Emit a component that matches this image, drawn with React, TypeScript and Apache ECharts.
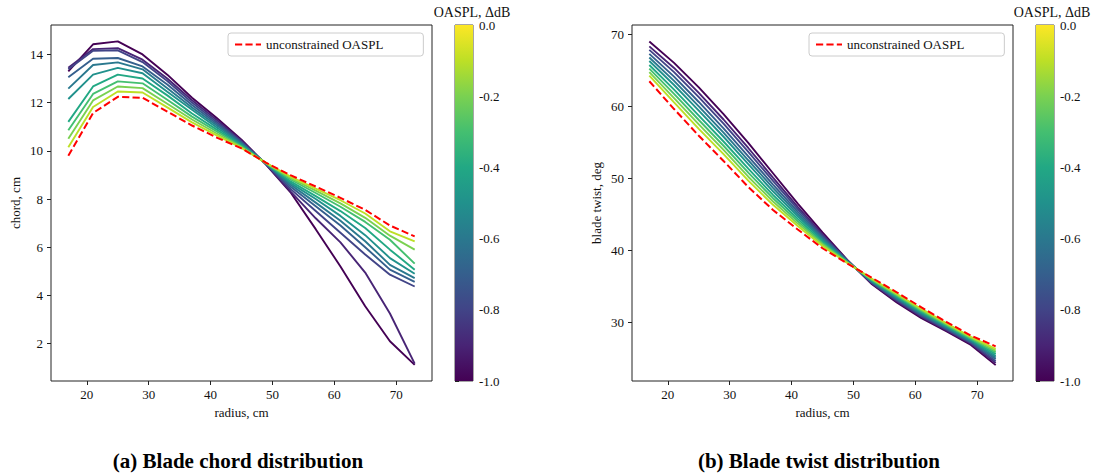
import React, { useEffect, useRef } from "react";
import * as echarts from "echarts";

// ---------- data ----------
const radius = [17, 21, 25, 29, 33, 37, 41, 45, 49, 53, 57, 61, 65, 69, 73];
const levels = [-1.0, -0.9, -0.8, -0.7, -0.6, -0.5, -0.4, -0.3, -0.2, -0.1];
const colorbarTicks = [0, -0.2, -0.4, -0.6, -0.8, -1.0];
const xTicks = [20, 30, 40, 50, 60, 70];
const chordTicks = [2, 4, 6, 8, 10, 12, 14];
const twistTicks = [30, 40, 50, 60, 70];

// chord, cm
const chordUnconstrained = [9.8, 11.57, 12.24, 12.2, 11.63, 11.05, 10.55, 10.1, 9.5, 8.98, 8.52, 8.05, 7.55, 6.9, 6.45];
const chordM10 = [13.3, 14.42, 14.54, 14.0, 13.16, 12.2, 11.36, 10.46, 9.42, 8.25, 6.75, 5.2, 3.55, 2.1, 1.12];
const chordM09 = [13.45, 14.22, 14.26, 13.78, 13.0, 12.1, 11.28, 10.42, 9.43, 8.3, 7.2, 6.2, 4.95, 3.25, 1.17];
const chordM08 = [13.38, 14.15, 14.17, 13.68, 12.9, 12.0, 11.2, 10.38, 9.44, 8.4, 7.5, 6.6, 5.7, 4.86, 4.37];
const chordM07 = [13.05, 13.82, 13.85, 13.5, 12.75, 11.9, 11.12, 10.34, 9.45, 8.5, 7.7, 6.9, 6.0, 5.07, 4.56];
const chordM06 = [12.58, 13.56, 13.67, 13.38, 12.6, 11.8, 11.05, 10.3, 9.46, 8.58, 7.85, 7.1, 6.25, 5.27, 4.72];
const chordM05 = [12.15, 13.16, 13.44, 13.22, 12.45, 11.7, 10.97, 10.26, 9.47, 8.65, 8.0, 7.3, 6.5, 5.55, 4.9];
const chordM04 = [11.2, 12.67, 13.16, 13.0, 12.3, 11.55, 10.88, 10.22, 9.47, 8.72, 8.12, 7.5, 6.8, 5.9, 5.07];
const chordM03 = [10.85, 12.36, 12.88, 12.8, 12.12, 11.42, 10.8, 10.18, 9.48, 8.8, 8.25, 7.68, 7.05, 6.31, 5.32];
const chordM02 = [10.5, 12.09, 12.67, 12.6, 11.95, 11.3, 10.72, 10.15, 9.49, 8.86, 8.35, 7.82, 7.22, 6.48, 5.9];
const chordM01 = [10.15, 11.82, 12.46, 12.42, 11.8, 11.18, 10.64, 10.12, 9.49, 8.92, 8.43, 7.95, 7.4, 6.66, 6.24];

// blade twist, deg
const twistUnconstrained = [63.45, 59.6, 55.9, 52.4, 48.8, 45.6, 42.9, 40.3, 38.2, 36.2, 34.2, 32.1, 30.1, 28.2, 26.7];
const twistM10 = [68.95, 66.0, 62.6, 58.9, 54.9, 50.7, 46.5, 42.5, 38.7, 35.3, 32.8, 30.6, 28.8, 26.9, 24.1];
const twistM09 = [68.29, 65.3, 61.85, 58.15, 54.2, 50.1, 46.05, 42.22, 38.64, 35.41, 32.97, 30.78, 28.96, 27.06, 24.41];
const twistM08 = [67.8, 64.72, 61.25, 57.58, 53.65, 49.63, 45.72, 42.03, 38.6, 35.49, 33.09, 30.91, 29.07, 27.17, 24.65];
const twistM07 = [67.25, 64.09, 60.58, 56.93, 53.05, 49.13, 45.37, 41.82, 38.55, 35.58, 33.23, 31.06, 29.2, 27.3, 24.91];
const twistM06 = [66.75, 63.51, 59.98, 56.34, 52.5, 48.67, 45.05, 41.62, 38.5, 35.66, 33.36, 31.2, 29.32, 27.42, 25.14];
const twistM05 = [66.26, 62.93, 59.38, 55.76, 51.95, 48.2, 44.73, 41.42, 38.46, 35.74, 33.49, 31.33, 29.44, 27.54, 25.37];
const twistM04 = [65.71, 62.29, 58.7, 55.1, 51.33, 47.69, 44.37, 41.2, 38.41, 35.83, 33.63, 31.48, 29.57, 27.67, 25.63];
const twistM03 = [65.21, 61.7, 58.08, 54.51, 50.78, 47.24, 44.05, 41.01, 38.36, 35.91, 33.75, 31.62, 29.68, 27.78, 25.87];
const twistM02 = [64.72, 61.11, 57.47, 53.93, 50.22, 46.78, 43.72, 40.81, 38.32, 35.99, 33.88, 31.75, 29.8, 27.9, 26.1];
const twistM01 = [64.22, 60.53, 56.86, 53.34, 49.67, 46.32, 43.4, 40.61, 38.27, 36.07, 34.0, 31.89, 29.92, 28.02, 26.34];

const chordLines = [chordM10, chordM09, chordM08, chordM07, chordM06, chordM05, chordM04, chordM03, chordM02, chordM01];
const twistLines = [twistM10, twistM09, twistM08, twistM07, twistM06, twistM05, twistM04, twistM03, twistM02, twistM01];

// viridis sampled at t = 0.0 ... 1.0
const viridis = ["#440154", "#482475", "#414487", "#355f8d", "#2a788e", "#21918c", "#22a884", "#44bf70", "#7ad151", "#bddf26", "#fde725"];

const FONT = "Liberation Serif";
const TXT = "#111";
const LEGEND_NAME = "unconstrained OASPL";

function colorFor(level: number) {
  const idx = Math.round((level + 1) * 10);
  return viridis[idx];
}

function buildOption() {
  const mainX = (gi: number) => ({
    type: "value",
    gridIndex: gi,
    min: 14.2,
    max: 75.8,
    name: "radius, cm",
    nameLocation: "middle",
    nameGap: 24,
    nameTextStyle: { fontFamily: FONT, fontSize: 13, color: TXT },
    splitLine: { show: false },
    axisLine: { show: false },
    axisTick: { show: true, length: 4, lineStyle: { color: "#222", width: 1 }, customValues: xTicks },
    axisLabel: { fontFamily: FONT, fontSize: 13, color: TXT, margin: 7, customValues: xTicks },
  });
  const mainY = (gi: number, min: number, max: number, name: string, ticks: number[]) => ({
    type: "value",
    gridIndex: gi,
    min,
    max,
    name,
    nameLocation: "middle",
    nameGap: 29,
    nameTextStyle: { fontFamily: FONT, fontSize: 13, color: TXT },
    splitLine: { show: false },
    axisLine: { show: false },
    axisTick: { show: true, length: 4, lineStyle: { color: "#222", width: 1 }, customValues: ticks },
    axisLabel: { fontFamily: FONT, fontSize: 13, color: TXT, margin: 8, customValues: ticks },
  });
  const cbX = (gi: number) => ({
    type: "value",
    gridIndex: gi,
    min: 0,
    max: 1,
    show: false,
  });
  const cbY = (gi: number) => ({
    type: "value",
    gridIndex: gi,
    min: -1,
    max: 0,
    position: "right",
    splitLine: { show: false },
    axisLine: { show: false },
    axisTick: { show: true, length: 4, lineStyle: { color: "#222", width: 1 }, customValues: colorbarTicks },
    axisLabel: {
      fontFamily: FONT,
      fontSize: 13,
      color: TXT,
      margin: 6,
      customValues: colorbarTicks,
      formatter: (v: number) => v.toFixed(1),
    },
  });

  const gradientStops = viridis
    .map((c, i) => ({ offset: 1 - i / (viridis.length - 1), color: c }))
    .reverse();

  const colorbarSeries = (axisIdx: number) => ({
    type: "custom",
    xAxisIndex: axisIdx,
    yAxisIndex: axisIdx,
    silent: true,
    data: [[0, 0]],
    renderItem: (_p: any, api: any) => {
      const a = api.coord([0, 0]);
      const b = api.coord([1, -1]);
      return {
        type: "rect",
        shape: { x: a[0], y: a[1], width: b[0] - a[0], height: b[1] - a[1] },
        style: { fill: new echarts.graphic.LinearGradient(0, 0, 0, 1, gradientStops) },
      };
    },
  });

  const series: any[] = [];
  chordLines.forEach((arr, i) => {
    series.push({
      name: "ΔOASPL " + levels[i].toFixed(1) + " dB (chord)",
      type: "line",
      xAxisIndex: 0,
      yAxisIndex: 0,
      symbol: "none",
      silent: true,
      z: 2,
      lineStyle: { color: colorFor(levels[i]), width: 1.9 },
      data: radius.map((r, j) => [r, arr[j]]),
    });
  });
  series.push({
    name: LEGEND_NAME,
    type: "line",
    xAxisIndex: 0,
    yAxisIndex: 0,
    symbol: "none",
    z: 3,
    color: "#ff0000",
    lineStyle: { color: "#ff0000", width: 2, type: [7.2, 3.2] },
    data: radius.map((r, j) => [r, chordUnconstrained[j]]),
  });
  twistLines.forEach((arr, i) => {
    series.push({
      name: "ΔOASPL " + levels[i].toFixed(1) + " dB (twist)",
      type: "line",
      xAxisIndex: 2,
      yAxisIndex: 2,
      symbol: "none",
      silent: true,
      z: 2,
      lineStyle: { color: colorFor(levels[i]), width: 1.9 },
      data: radius.map((r, j) => [r, arr[j]]),
    });
  });
  series.push({
    name: LEGEND_NAME,
    type: "line",
    xAxisIndex: 2,
    yAxisIndex: 2,
    symbol: "none",
    z: 3,
    color: "#ff0000",
    lineStyle: { color: "#ff0000", width: 2, type: [7.2, 3.2] },
    data: radius.map((r, j) => [r, twistUnconstrained[j]]),
  });
  series.push(colorbarSeries(1));
  series.push(colorbarSeries(3));

  const makeLegend = (left: number) => ({
    show: true,
    data: [LEGEND_NAME],
    left,
    top: 33,
    orient: "horizontal",
    itemWidth: 26,
    itemHeight: 12,
    itemGap: 8,
    padding: [5, 40, 5, 6],
    borderColor: "#cccccc",
    borderWidth: 1,
    borderRadius: 3,
    backgroundColor: "rgba(255,255,255,0.8)",
    selectedMode: false,
    itemStyle: { opacity: 0 },
    lineStyle: { color: "#ff0000", width: 2, type: [7.2, 3.2], opacity: 1 },
    textStyle: { fontFamily: FONT, fontSize: 13, color: TXT },
  });

  return {
    animation: false,
    backgroundColor: "#ffffff",
    textStyle: { fontFamily: FONT },
    grid: [
      { left: 51, top: 25, width: 381, height: 356, show: true, borderColor: "#222", borderWidth: 1, backgroundColor: "transparent" },
      { left: 455, top: 25, width: 18, height: 356, show: true, borderColor: "#222", borderWidth: 0.8, backgroundColor: "transparent" },
      { left: 632, top: 25, width: 381, height: 356, show: true, borderColor: "#222", borderWidth: 1, backgroundColor: "transparent" },
      { left: 1036, top: 25, width: 18, height: 356, show: true, borderColor: "#222", borderWidth: 0.8, backgroundColor: "transparent" },
    ],
    xAxis: [mainX(0), cbX(1), mainX(2), cbX(3)],
    yAxis: [
      mainY(0, 0.45, 15.22, "chord, cm", chordTicks),
      cbY(1),
      mainY(2, 21.9, 71.25, "blade twist, deg", twistTicks),
      cbY(3),
    ],
    legend: [makeLegend(228), makeLegend(809)],
    series,
    graphic: [
      {
        type: "text",
        x: 472,
        y: 12,
        style: { text: "OASPL, ΔdB", fontFamily: FONT, fontSize: 14, fill: TXT, align: "center", verticalAlign: "middle" },
      },
      {
        type: "text",
        x: 1052,
        y: 12,
        style: { text: "OASPL, ΔdB", fontFamily: FONT, fontSize: 14, fill: TXT, align: "center", verticalAlign: "middle" },
      },
      {
        type: "text",
        x: 238,
        y: 461,
        style: { text: "(a) Blade chord distribution", fontFamily: FONT, fontSize: 21, fontWeight: "bold", fill: "#000", align: "center", verticalAlign: "middle" },
      },
      {
        type: "text",
        x: 819,
        y: 461,
        style: { text: "(b) Blade twist distribution", fontFamily: FONT, fontSize: 21, fontWeight: "bold", fill: "#000", align: "center", verticalAlign: "middle" },
      },
    ],
  };
}

export default function App() {
  const ref = useRef<HTMLDivElement>(null);
  useEffect(() => {
    if (!ref.current) return;
    const chart = echarts.init(ref.current, null, { renderer: "svg" });
    chart.setOption(buildOption() as any);
    return () => chart.dispose();
  }, []);
  return (
    <div
      ref={ref}
      style={{ position: "fixed", left: 0, top: 0, width: 1094, height: 476, background: "#fff" }}
    />
  );
}
